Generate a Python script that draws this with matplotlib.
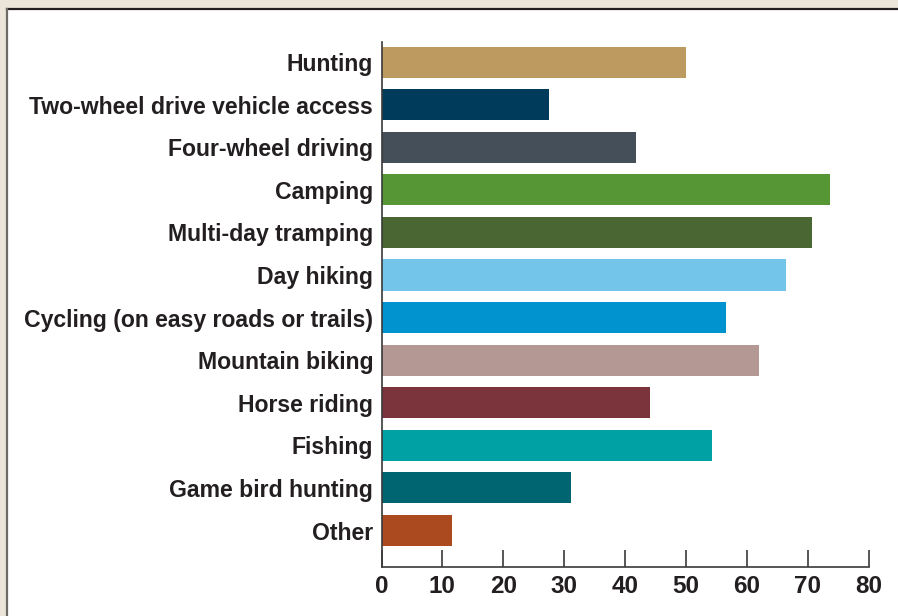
import matplotlib
matplotlib.use("Agg")
import matplotlib.pyplot as plt
from matplotlib.patches import Rectangle

# Activities and their share (%)
activities = [
    "Hunting",
    "Two-wheel drive vehicle access",
    "Four-wheel driving",
    "Camping",
    "Multi-day tramping",
    "Day hiking",
    "Cycling (on easy roads or trails)",
    "Mountain biking",
    "Horse riding",
    "Fishing",
    "Game bird hunting",
    "Other",
]
values = [50.1, 27.5, 41.8, 73.6, 70.7, 66.4, 56.6, 62.0, 44.1, 54.3, 31.1, 11.6]
colors = [
    "#BD9A5F", "#003B5C", "#444F59", "#569634", "#4A6633", "#73C6EA",
    "#0093D0", "#B39893", "#7B333C", "#00A1A4", "#006570", "#AB4A1F",
]
x_ticks = [0, 10, 20, 30, 40, 50, 60, 70, 80]

plt.rcParams["font.family"] = ["Liberation Sans", "DejaVu Sans"]
text_color = "#231F20"

W, H = 898, 616
fig = plt.figure(figsize=(W / 100, H / 100), dpi=100)
fig.patch.set_facecolor("#ECE5DA")

# White panel with a dark frame on top and a grey edge on the left
panel = Rectangle((7 / W, 0), 1.0, 1 - 10 / H, transform=fig.transFigure,
                  facecolor="white", edgecolor="none", zorder=-5)
fig.add_artist(panel)
fig.add_artist(plt.Line2D([6.5 / W, 1], [1 - 9 / H, 1 - 9 / H],
                          transform=fig.transFigure, color="#231F20", lw=1.6,
                          zorder=-4))
fig.add_artist(plt.Line2D([6.5 / W, 6.5 / W], [0, 1 - 9 / H],
                          transform=fig.transFigure, color="#6E6A66", lw=1.6,
                          zorder=-4))

ax = fig.add_axes([381.5 / W, 1 - 566.7 / H, (868.5 - 381.5) / W, (566.7 - 41.7) / H])
ax.set_zorder(2)
ax.set_facecolor("none")

ypos = list(range(len(activities)))
ax.barh(ypos, values, height=0.73, color=colors, zorder=2)

ax.set_xlim(0, 80)
ax.set_ylim(11.85, -0.48)
ax.set_yticks(ypos)
ax.set_yticklabels(activities)
ax.set_xticks(x_ticks)
ax.set_xticklabels([str(t) for t in x_ticks])

for side in ("top", "right"):
    ax.spines[side].set_visible(False)
for side in ("left", "bottom"):
    ax.spines[side].set_color("#3A3A3A")
    ax.spines[side].set_linewidth(1.2)

ax.tick_params(axis="y", length=0, pad=6, labelsize=16.6, labelcolor=text_color)
ax.tick_params(axis="x", direction="in", length=12, width=1.2, color="#3A3A3A",
               pad=6, labelsize=17.5, labelcolor=text_color)
for lbl in ax.get_yticklabels() + ax.get_xticklabels():
    lbl.set_fontweight("bold")

fig.savefig("out.png", dpi=100, facecolor=fig.get_facecolor())
